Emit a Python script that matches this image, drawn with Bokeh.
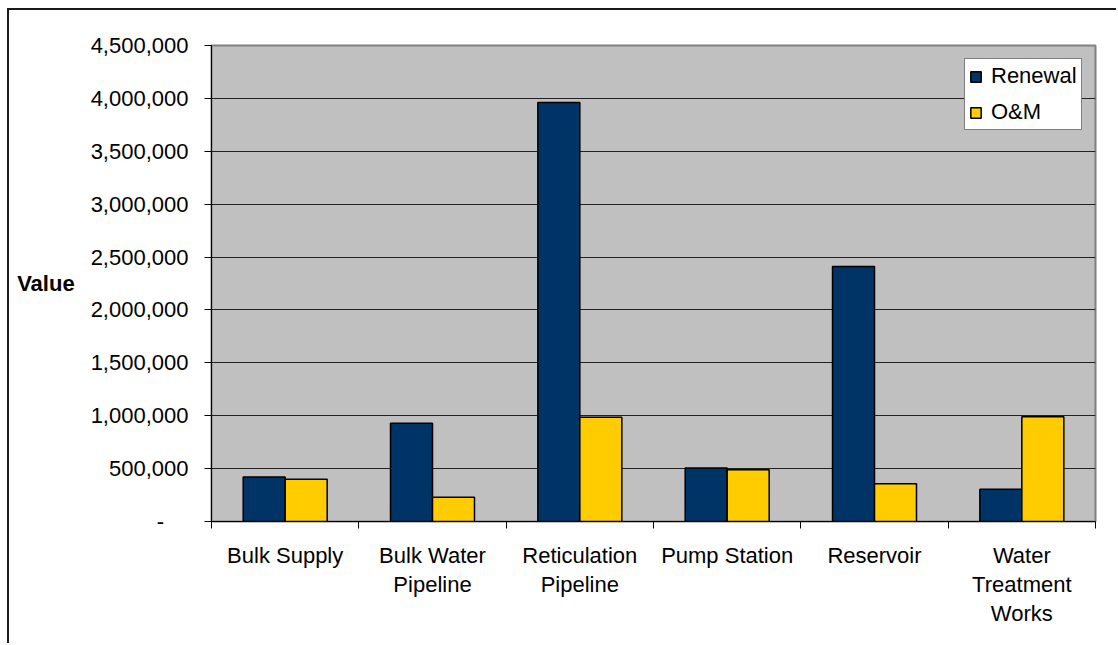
from bokeh.plotting import figure
from bokeh.models import Range1d, FixedTicker, NumeralTickFormatter, Legend, LegendItem, ColumnDataSource
from bokeh.embed import file_html
from bokeh.resources import INLINE

# Asset categories and annual cost values
categories = ["Bulk Supply", "Bulk Water Pipeline", "Reticulation Pipeline",
              "Pump Station", "Reservoir", "Water Treatment Works"]
category_labels = ["Bulk Supply", "Bulk Water\nPipeline", "Reticulation\nPipeline",
                   "Pump Station", "Reservoir", "Water\nTreatment\nWorks"]
renewal = [420000, 930000, 3960000, 505000, 2410000, 305000]
om = [400000, 230000, 985000, 490000, 356000, 990000]
y_ticks = [0, 500000, 1000000, 1500000, 2000000, 2500000, 3000000, 3500000, 4000000, 4500000]

FONT = "Liberation Sans"
BAR_W = 0.285

centers = [i + 0.5 for i in range(len(categories))]
src = ColumnDataSource(dict(
    x_ren=[c - BAR_W / 2 for c in centers],
    x_om=[c + BAR_W / 2 for c in centers],
    renewal=renewal,
    om=om,
))

p = figure(width=1109, height=635, output_backend="svg", toolbar_location=None,
           x_range=Range1d(0, len(categories)), y_range=Range1d(0, 4500000),
           min_border_left=202, min_border_right=23, min_border_top=35, min_border_bottom=124)
p.styles = {"margin-left": "7px", "margin-top": "8px",
            "border-left": "2px solid #1a1a1a", "border-top": "2px solid #1a1a1a"}

p.background_fill_color = "#C0C0C0"
p.border_fill_color = "white"
p.outline_line_color = "#808080"
p.outline_line_width = 2

r_ren = p.vbar(x="x_ren", top="renewal", width=BAR_W, source=src,
               fill_color="#003366", line_color="black", line_width=1.5)
r_om = p.vbar(x="x_om", top="om", width=BAR_W, source=src,
              fill_color="#FFCC00", line_color="black", line_width=1.5)

# x axis: tick marks on category boundaries, labels at centres
xa = p.xaxis[0]
xa.ticker = FixedTicker(ticks=centers, minor_ticks=list(range(len(categories) + 1)))
xa.major_label_overrides = {c: lab for c, lab in zip(centers, category_labels)}
xa.major_tick_out = 0
xa.major_tick_in = 0
xa.minor_tick_out = 7
xa.minor_tick_in = 0
xa.minor_tick_line_color = "black"
xa.axis_line_color = "black"
xa.major_label_text_font = FONT
xa.major_label_text_font_size = "22px"
xa.major_label_text_color = "black"
xa.major_label_text_line_height = 1.16
xa.major_label_standoff = 14

ya = p.yaxis[0]
ya.ticker = FixedTicker(ticks=y_ticks)
ya.formatter = NumeralTickFormatter(format="0,0")
ya.major_label_overrides = {0: "-\u00a0\u00a0\u00a0\u00a0"}
ya.major_tick_out = 7
ya.major_tick_in = 0
ya.minor_tick_line_color = None
ya.axis_line_color = "black"
ya.major_tick_line_color = "black"
ya.major_label_text_font = FONT
ya.major_label_text_font_size = "22px"
ya.major_label_text_color = "black"
ya.major_label_standoff = 16
ya.axis_label = "Value"
ya.axis_label_orientation = "horizontal"
ya.axis_label_text_font = FONT
ya.axis_label_text_font_size = "22px"
ya.axis_label_text_font_style = "bold"
ya.axis_label_text_color = "black"
ya.axis_label_standoff = 13

p.xgrid.grid_line_color = None
p.ygrid.grid_line_color = "#222222"
p.ygrid.grid_line_width = 1

legend = Legend(items=[LegendItem(label="Renewal", renderers=[r_ren]),
                       LegendItem(label="O&M", renderers=[r_om])],
                location=(753, 391))
legend.label_text_font = FONT
legend.label_text_font_size = "22px"
legend.label_text_color = "black"
legend.glyph_width = 13
legend.glyph_height = 13
legend.label_standoff = 9
legend.label_height = 22
legend.spacing = 10
legend.padding = 4
legend.margin = 0
legend.border_line_color = "black"
legend.border_line_width = 1
legend.background_fill_color = "white"
legend.background_fill_alpha = 1
p.add_layout(legend)

open("out.html", "w").write(file_html(p, INLINE))
